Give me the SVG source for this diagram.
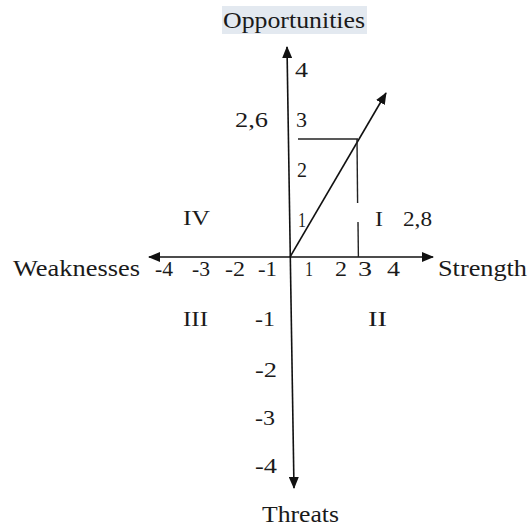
<svg xmlns="http://www.w3.org/2000/svg" width="530" height="529" viewBox="0 0 530 529">
<style>
.ax{stroke:#111;stroke-width:1.6;fill:none}
.thin{stroke:#222;stroke-width:1.4;fill:none}
</style>
<defs>
<marker id="ah" viewBox="0 0 12 10" refX="11" refY="5" markerWidth="12" markerHeight="10" markerUnits="userSpaceOnUse" orient="auto">
<path d="M0,0 L12,5 L0,10 Z" fill="#111"/>
</marker>
</defs>
<rect x="222" y="6" width="145" height="28" fill="#e3e9f0"/>
<g id="connectors">
<line class="ax" x1="290.3" y1="257" x2="287" y2="47" marker-end="url(#ah)"/>
<line class="ax" x1="290.3" y1="257" x2="294" y2="488" marker-end="url(#ah)"/>
<line class="ax" x1="290" y1="257" x2="149" y2="257" marker-end="url(#ah)"/>
<line class="ax" x1="290" y1="257" x2="433" y2="257" marker-end="url(#ah)"/>
<line class="ax" x1="290" y1="257" x2="386" y2="93" marker-end="url(#ah)"/>
<line class="thin" x1="298" y1="139" x2="358" y2="139"/>
<line class="thin" x1="357" y1="139" x2="357.6" y2="203"/>
<line class="thin" x1="358" y1="222" x2="358.4" y2="257"/>
</g>
<g font-family="Liberation Serif, serif" fill="#1a1a1a" lengthAdjust="spacingAndGlyphs">
<g id="labels" font-size="24">
<text x="223" y="28" textLength="142" lengthAdjust="spacingAndGlyphs">Opportunities</text>
<text x="13" y="276" textLength="127" lengthAdjust="spacingAndGlyphs">Weaknesses</text>
<text x="438" y="276" textLength="89" lengthAdjust="spacingAndGlyphs">Strength</text>
<text x="262" y="522" textLength="77" lengthAdjust="spacingAndGlyphs">Threats</text>
</g>
<g id="quadrants" font-size="21">
<text x="183" y="225" textLength="27" lengthAdjust="spacingAndGlyphs">IV</text>
<text x="375" y="226" textLength="8" lengthAdjust="spacingAndGlyphs">I</text>
<text x="183" y="326" textLength="25" lengthAdjust="spacingAndGlyphs">III</text>
<text x="368" y="326" textLength="19" lengthAdjust="spacingAndGlyphs">II</text>
<text x="235" y="127" textLength="33" lengthAdjust="spacingAndGlyphs">2,6</text>
<text x="403" y="226" textLength="29" lengthAdjust="spacingAndGlyphs">2,8</text>
</g>
<g id="ticks" font-size="21">
<text x="295" y="77" textLength="13" lengthAdjust="spacingAndGlyphs">4</text>
<text x="296" y="127" textLength="11" lengthAdjust="spacingAndGlyphs">3</text>
<text x="297" y="177" textLength="10" lengthAdjust="spacingAndGlyphs">2</text>
<text x="298" y="227" textLength="8" lengthAdjust="spacingAndGlyphs">1</text>
<text x="155" y="276" textLength="18" lengthAdjust="spacingAndGlyphs">-4</text>
<text x="192" y="276" textLength="18" lengthAdjust="spacingAndGlyphs">-3</text>
<text x="225" y="276" textLength="20" lengthAdjust="spacingAndGlyphs">-2</text>
<text x="258" y="276" textLength="19" lengthAdjust="spacingAndGlyphs">-1</text>
<text x="305" y="276" textLength="8" lengthAdjust="spacingAndGlyphs">1</text>
<text x="335" y="276" textLength="12" lengthAdjust="spacingAndGlyphs">2</text>
<text x="358" y="276" textLength="14" lengthAdjust="spacingAndGlyphs">3</text>
<text x="387" y="276" textLength="13" lengthAdjust="spacingAndGlyphs">4</text>
<text x="255" y="326" textLength="20" lengthAdjust="spacingAndGlyphs">-1</text>
<text x="255" y="377" textLength="22" lengthAdjust="spacingAndGlyphs">-2</text>
<text x="255" y="425" textLength="20" lengthAdjust="spacingAndGlyphs">-3</text>
<text x="255" y="473" textLength="22" lengthAdjust="spacingAndGlyphs">-4</text>
</g>
</g>
</svg>
